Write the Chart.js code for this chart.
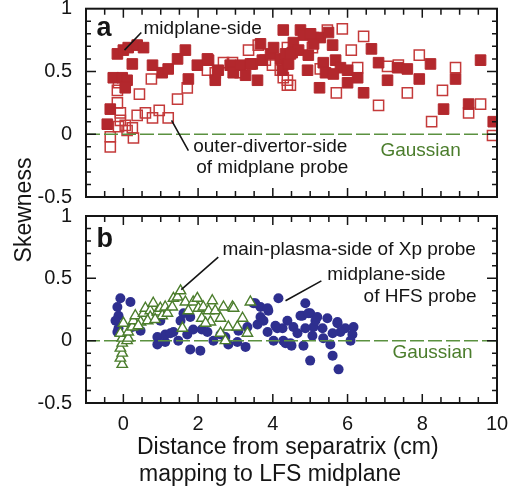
<!DOCTYPE html>
<html>
<head>
<meta charset="utf-8">
<script src="https://cdn.jsdelivr.net/npm/chart.js@4.4.0/dist/chart.umd.min.js"></script>
<style>
  body { margin: 0; background: #fff; }
  #wrap { position: relative; width: 517px; height: 488px; }
  #wrap canvas { position: absolute; left: 0; top: 0; }
</style>
</head>
<body>
<div id="wrap">
  <canvas id="chartA" width="517" height="488"></canvas>
  <canvas id="chartB" width="517" height="488"></canvas>
</div>
<script>
// panel a: midplane-side (filled squares)
var midplaneX = [-0.16, 0, 0.13, 0.37, 0.54, 0.24, -0.27, -0.03, 0.1, 0.05, -0.35, -0.43, 0.78, 1.04, 1.2, 1.45, 1.66, 1.74, 1.98, 2.28,
  2.46, 2.86, 2.94, 3.27, 3.45, 3.59, 3.72, 3.94, 4.2, 4.39, 3.67, 4.02, 4.28, 4.74, 4.82, 5.09, 5.27, 5.49, 4.55, 5.09,
  5.6, 4.34, 4.52, 4.69, 4.95, 5.35, 5.68, 5.81, 6.0, 6.27, 5.41, 5.62, 4.93, 4.26, 4.42, 5.25, 6.0, 6.43, 6.64, 6.83,
  7.07, 7.34, 7.6, 7.92, 8.22, 8.89, 8.57, 9.24, 9.56, 9.9, 2.25, 2.54, 3.13, 3.4, 4.47, 5.01];
var midplaneY = [0.64, 0.67, 0.69, 0.71, 0.69, 0.56, 0.45, 0.45, 0.43, 0.37, 0.2, 0.08, 0.55, 0.49, 0.52, 0.6, 0.67, 0.44, 0.55, 0.59,
  0.43, 0.55, 0.49, 0.47, 0.56, 0.43, 0.59, 0.64, 0.6, 0.56, 0.72, 0.69, 0.83, 0.83, 0.79, 0.77, 0.77, 0.81, 0.73, 0.72,
  0.71, 0.64, 0.65, 0.67, 0.63, 0.57, 0.59, 0.53, 0.51, 0.45, 0.49, 0.48, 0.51, 0.51, 0.56, 0.37, 0.41, 0.33, 0.68, 0.57,
  0.43, 0.53, 0.52, 0.44, 0.56, 0.44, 0.2, 0.24, 0.59, 0.1, 0.6, 0.51, 0.55, 0.56, 0.64, 0.8];

// panel a: outer-divertor-side of midplane probe (open squares)
var outerX = [-0.35, -0.35, -0.13, 0.05, 0.1, 0.24, 0.27, -0.08, -0.16, -0.08, -0.16, -0.13, 0.43, 0.37, 0.59, 0.78, 0.96, 1.2, 1.45, 1.71,
  2.25, 2.46, 2.68, 2.92, 3.13, 3.35, 3.61, 3.99, 4.2, 4.39, 4.28, 4.39, 4.47, 5.46, 5.86, 6.43, 6.1, 6.27, 5.7, 5.27,
  7.07, 7.36, 7.6, 6.83, 7.92, 8.89, 8.54, 8.25, 9.24, 9.56, 9.88, 4.39, 5.06, 3.8, 0.75];
var outerY = [-0.02, -0.1, 0.06, 0.07, 0.03, 0.05, -0.03, 0.11, 0.25, 0.17, 0.35, 0.41, 0.32, 0.15, 0.17, 0.13, 0.19, 0.13, 0.28, 0.37,
  0.51, 0.49, 0.57, 0.57, 0.49, 0.67, 0.71, 0.55, 0.51, 0.39, 0.45, 0.43, 0.39, 0.83, 0.84, 0.78, 0.67, 0.53, 0.33, 0.52,
  0.54, 0.55, 0.33, 0.23, 0.63, 0.53, 0.35, 0.1, 0.17, 0.24, -0.01, 0.69, 0.69, 0.59, 0.44];

// panel b: midplane-side of HFS probe (filled circles)
var hfsX = [-0.08, 0.19, -0.16, -0.13, -0.21, -0.13, -0.16, 0.24, 0.46, 0.91, 0.91, 1.12, 1.12, 1.34, 1.47, 1.71, 1.79, 2.06, 1.87, 2.1,
  2.25, 2.41, 2.6, 2.73, 2.81, 3.05, 3.27, 3.08, 3.32, 3.59, 3.67, 3.48, 3.67, 3.88, 4.15, 1.61, 1.79, 1.53, 4.39, 4.12,
  3.86, 4.02, 4.87, 4.79, 5.0, 5.19, 5.46, 5.73, 5.94, 6.16, 6.13, 6.08, 5.81, 5.54, 5.6, 5.76, 5.0, 5.09, 5.33, 4.55,
  4.47, 4.28, 4.66, 4.82, 4.26, 5.35, 3.53, 3.86, 3.75, 4.07, 4.34, 4.5, 4.74, 4.95, 5.14, 5.6, 5.73, 5.06, 4.87, 0.99, 1.26];
var hfsY = [0.34, 0.31, 0.27, 0.2, 0.16, 0.1, 0.07, 0.11, 0.08, 0.03, -0.03, -0.01, 0.05, 0.07, 0.0, 0.05, -0.07, -0.08, 0.09, 0.09,
  0.07, 0.0, 0.05, 0.03, -0.03, -0.01, -0.05, 0.08, 0.11, 0.13, 0.19, 0.3, 0.27, 0.24, 0.34, 0.22, 0.19, 0.16, 0.16, 0.1,
  0.07, 0.0, 0.3, 0.2, 0.22, 0.19, 0.18, 0.15, 0.1, 0.11, 0.05, 0.0, 0.07, -0.03, -0.12, -0.23, -0.16, 0.11, 0.1, 0.11,
  -0.02, 0.0, 0.06, -0.04, 0.1, 0.02, 0.3, 0.26, 0.16, 0.12, -0.02, -0.04, 0.2, 0.22, 0.16, 0.06, 0.14, 0.04, 0.1, 0.16, 0.06];

// panel b: main-plasma-side of Xp probe (open triangles)
var xpX = [-0.03, -0.08, -0.03, -0.08, -0.03, -0.03, -0.08, 0.0, 0.1, 0.13, 0.13, 0.24, 0.27, 0.32, 0.46, 0.54, 0.59, 0.72, 0.72, 0.8,
  0.91, 0.99, 1.04, 1.12, 1.18, 1.31, 1.34, 1.45, 1.53, 1.66, 1.58, 1.74, 1.87, 1.98, 2.01, 2.14, 2.1, 2.38, 2.28, 2.46,
  2.33, 2.6, 2.81, 2.68, 2.92, 2.6, 2.73, 3.05, 3.19, 3.4, 2.95, 3.32, 2.2, 0.4, 0.65, 0.85];
var xpY = [-0.19, -0.14, -0.1, -0.06, -0.02, 0.02, 0.06, 0.14, 0.0, 0.02, 0.07, 0.11, 0.16, 0.2, 0.15, 0.22, 0.26, 0.24, 0.19, 0.3,
  0.23, 0.26, 0.2, 0.27, 0.22, 0.27, 0.34, 0.35, 0.4, 0.31, 0.1, 0.24, 0.31, 0.34, 0.26, 0.27, 0.18, 0.32, 0.24, 0.24,
  0.15, 0.18, 0.11, 0.27, 0.27, 0.06, 0.0, 0.11, 0.18, 0.31, 0.26, 0.06, 0.14, 0.12, 0.16, 0.17];

// Gaussian reference (skewness = 0)
var gaussX = [-1, 10];
var gaussY = [0, 0];

var xTicks = [0, 2, 4, 6, 8, 10];
var yTicks = [-0.5, 0, 0.5, 1];
var xMinor = [-0.5, 0, 0.5, 1, 1.5, 2, 2.5, 3, 3.5, 4, 4.5, 5, 5.5, 6, 6.5, 7, 7.5, 8, 8.5, 9, 9.5];
var yMinor = [-0.4, -0.3, -0.2, -0.1, 0, 0.1, 0.2, 0.3, 0.4, 0.5, 0.6, 0.7, 0.8, 0.9];

var red = '#b3282d';
var redOpen = '#c43a3a';
var blue = '#2e2f8f';
var green = '#4b7d2c';
var ink = '#151515';
var family = '"Liberation Sans", Arial, sans-serif';

function pts(xs, ys) {
  return xs.map(function (v, i) { return { x: v, y: ys[i] }; });
}

function gaussSet() {
  return {
    data: pts(gaussX, gaussY), showLine: true, pointRadius: 0,
    borderColor: '#5b9140', borderWidth: 1.5, borderDash: [14, 4]
  };
}

// labels and leader lines, placed in data units
var annotA = [
  { t: 'a', x: -0.72, y: 0.84, font: 'bold 27px' },
  { t: 'midplane-side', x: 0.54, y: 0.84 },
  { t: 'outer-divertor-side', x: 1.87, y: -0.10 },
  { t: 'of midplane probe', x: 1.95, y: -0.27 },
  { t: 'Gaussian', x: 6.88, y: -0.13, color: green }
];
var leadA = [[0.48, 0.81, 0.03, 0.67], [1.29, 0.11, 1.74, -0.13]];
var annotB = [
  { t: 'b', x: -0.72, y: 0.81, font: 'bold 27px' },
  { t: 'main-plasma-side of Xp probe', x: 2.65, y: 0.73 },
  { t: 'midplane-side', x: 5.46, y: 0.53 },
  { t: 'of HFS probe', x: 6.43, y: 0.35 },
  { t: 'Gaussian', x: 7.2, y: -0.1, color: green }
];
var leadB = [[2.54, 0.67, 1.55, 0.41], [5.3, 0.48, 4.34, 0.32]];

function deco(annots, leads, extra) {
  return {
    id: 'deco',
    afterDraw: function (chart) {
      var ctx = chart.ctx, a = chart.chartArea, x = chart.scales.x, y = chart.scales.y;
      ctx.save();
      // inside ticks
      ctx.strokeStyle = ink;
      ctx.lineWidth = 1.5;
      ctx.beginPath();
      xMinor.forEach(function (v) {
        var px = x.getPixelForValue(v);
        var len = xTicks.indexOf(v) >= 0 ? 9 : 6;
        ctx.moveTo(px, a.bottom); ctx.lineTo(px, a.bottom - len);
        ctx.moveTo(px, a.top); ctx.lineTo(px, a.top + len);
      });
      yMinor.forEach(function (v) {
        var py = y.getPixelForValue(v);
        var len = yTicks.indexOf(v) >= 0 ? 10 : 5;
        ctx.moveTo(a.left, py); ctx.lineTo(a.left + len, py);
        ctx.moveTo(a.right, py); ctx.lineTo(a.right - len, py);
      });
      ctx.stroke();
      // frame
      ctx.lineWidth = 2;
      ctx.strokeRect(a.left, a.top, a.right - a.left, a.bottom - a.top);
      // leaders
      ctx.lineWidth = 1.6;
      ctx.beginPath();
      leads.forEach(function (l) {
        ctx.moveTo(x.getPixelForValue(l[0]), y.getPixelForValue(l[1]));
        ctx.lineTo(x.getPixelForValue(l[2]), y.getPixelForValue(l[3]));
      });
      ctx.stroke();
      // labels
      ctx.textBaseline = 'middle';
      ctx.textAlign = 'left';
      annots.forEach(function (n) {
        ctx.font = (n.font || '19px') + ' ' + family;
        ctx.fillStyle = n.color || ink;
        ctx.fillText(n.t, x.getPixelForValue(n.x), y.getPixelForValue(n.y));
      });
      if (extra) extra(ctx);
      ctx.restore();
    }
  };
}

function axes(showX) {
  return {
    x: {
      type: 'linear', min: -1, max: 10, display: showX,
      grid: { display: false, drawTicks: false }, border: { display: false },
      afterBuildTicks: function (s) { s.ticks = xTicks.map(function (v) { return { value: v }; }); },
      afterFit: function (s) { s.height = showX ? 85 : 0; s.paddingLeft = 0; s.paddingRight = 0; },
      ticks: { color: ink, padding: 9, font: { size: 20, family: family }, maxRotation: 0,
        callback: function (v) { return String(v); } }
    },
    y: {
      type: 'linear', min: -0.5, max: 1,
      grid: { display: false, drawTicks: false }, border: { display: false },
      afterBuildTicks: function (s) { s.ticks = yTicks.map(function (v) { return { value: v }; }); },
      afterFit: function (s) { s.width = 86; s.paddingTop = 0; s.paddingBottom = 0; },
      ticks: { color: ink, padding: 14, font: { size: 20, family: family },
        callback: function (v) { return String(v); } }
    }
  };
}

function baseOptions(pad, showX) {
  return {
    responsive: false, animation: false, events: [],
    layout: { padding: pad },
    plugins: { legend: { display: false }, tooltip: { enabled: false } },
    scales: axes(showX)
  };
}

new Chart(document.getElementById('chartA'), {
  type: 'scatter',
  data: {
    datasets: [
      gaussSet(),
      { data: pts(midplaneX, midplaneY), pointStyle: 'rect', pointRadius: 7.5,
        backgroundColor: red, borderColor: red, borderWidth: 1 },
      { data: pts(outerX, outerY), pointStyle: 'rect', pointRadius: 7.2,
        backgroundColor: 'rgba(0,0,0,0)', borderColor: redOpen, borderWidth: 1.5 }
    ]
  },
  options: baseOptions({ top: 8, bottom: 291, left: 0, right: 20 }, false),
  plugins: [deco(annotA, leadA, function (ctx) {
    ctx.save();
    ctx.translate(25, 210);
    ctx.rotate(-Math.PI / 2);
    ctx.textAlign = 'center';
    ctx.font = '23px ' + family;
    ctx.fillStyle = ink;
    ctx.fillText('Skewness', 0, 0);
    ctx.restore();
  })]
});

new Chart(document.getElementById('chartB'), {
  type: 'scatter',
  data: {
    datasets: [
      { data: pts(xpX, xpY), pointStyle: 'triangle', pointRadius: 6,
        backgroundColor: '#ffffff', borderColor: green, borderWidth: 1.4 },
      gaussSet(),
      { data: pts(hfsX, hfsY), pointStyle: 'circle', pointRadius: 5,
        backgroundColor: blue, borderColor: blue, borderWidth: 0 }
    ]
  },
  options: baseOptions({ top: 216, bottom: 0, left: 0, right: 20 }, true),
  plugins: [deco(annotB, leadB, function (ctx) {
    ctx.textAlign = 'left';
    ctx.font = '23px ' + family;
    ctx.fillStyle = ink;
    ctx.fillText('Distance from separatrix (cm)', 137, 448);
    ctx.fillText('mapping to LFS midplane', 139, 475);
  })]
});
</script>
</body>
</html>
